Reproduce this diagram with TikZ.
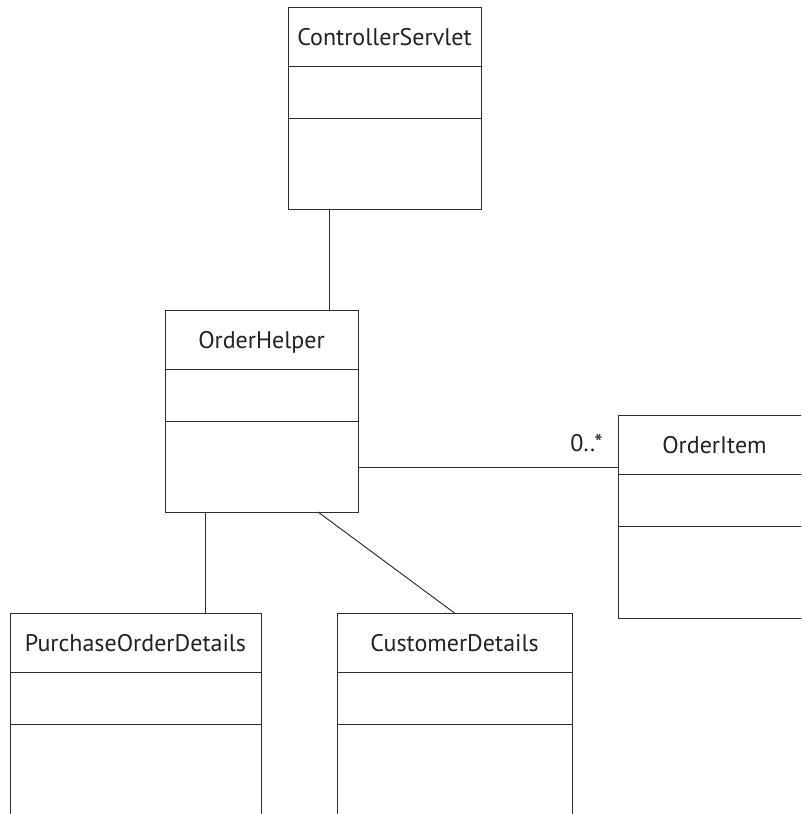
\documentclass[tikz,border=0pt]{standalone}
\usepackage{fontspec}
\setmainfont{PT Sans}
\definecolor{linec}{RGB}{45,45,45}
\definecolor{textc}{RGB}{34,34,34}
\begin{document}
\begin{tikzpicture}[x=1pt,y=-1pt,
  classbox/.style={draw=linec,line width=0.95pt,rectangle,inner sep=0pt,outer sep=0pt,anchor=north west},
  title/.style={anchor=base,inner sep=0pt,text=textc,font=\fontsize{24}{28}\selectfont},
  conn/.style={draw=linec,line width=0.95pt}]
\useasboundingbox (0,0) rectangle (801,814);
\clip (0,0) rectangle (801,814);
\fill[white] (0,0) rectangle (801,814);
% classes
\node[classbox,minimum width=193pt,minimum height=202pt] (cs) at (288,7) {};
\node[classbox,minimum width=193pt,minimum height=202pt] (oh) at (165,310) {};
\node[classbox,minimum width=193pt,minimum height=203pt] (oi) at (618,415) {};
\node[classbox,minimum width=251pt,minimum height=230pt] (pod) at (10,613) {};
\node[classbox,minimum width=235pt,minimum height=230pt] (cd) at (337,613) {};
% dividers
\foreach \b in {cs,oh,oi,pod,cd}{
  \draw[conn] ([yshift=-59pt]\b.north west) -- ([yshift=-59pt]\b.north east);
  \draw[conn] ([yshift=-111pt]\b.north west) -- ([yshift=-111pt]\b.north east);
}
% titles
\node[title] (cst) at ([yshift=-38pt]cs.north) {ControllerServlet};
\node[title] (oht) at ([yshift=-38pt]oh.north) {OrderHelper};
\node[title] (oit) at ([yshift=-38pt]oi.north) {OrderItem};
\node[title] (podt) at ([yshift=-38pt]pod.north) {PurchaseOrderDetails};
\node[title] (cdt) at ([yshift=-38pt]cd.north) {CustomerDetails};
% connectors
\draw[conn] ([xshift=41pt]cs.south west) -- ([xshift=164pt]oh.north west);
\coordinate (ohr) at ([yshift=-56pt]oh.east);
\draw[conn] (ohr) -- (ohr -| oi.west);
\draw[conn] ([xshift=40pt]oh.south west) -- ([xshift=195pt]pod.north west);
\draw[conn] ([xshift=153pt]oh.south west) -- (cd.north);
\node[title,anchor=base east] (mult) at (603,451) {0..*};
\end{tikzpicture}
\end{document}
